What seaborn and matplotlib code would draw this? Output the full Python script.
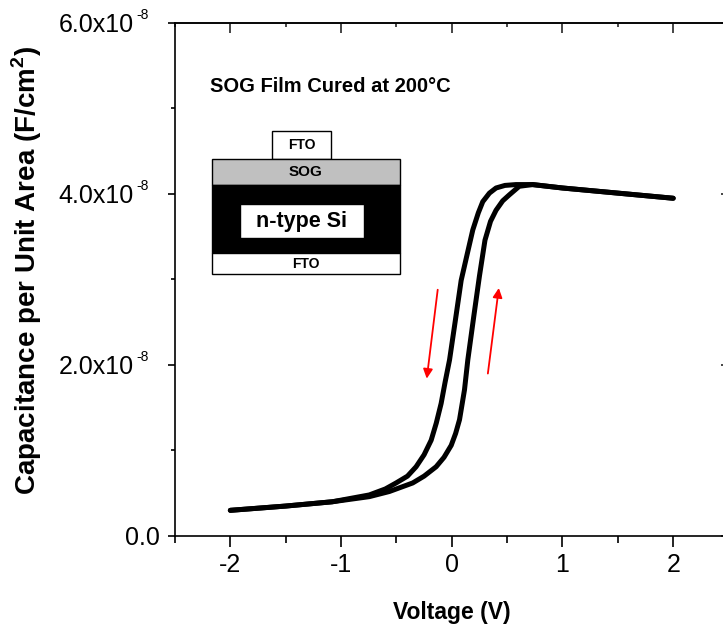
import matplotlib
matplotlib.use("Agg")
import matplotlib.pyplot as plt
from matplotlib.patches import Rectangle
from matplotlib.ticker import MultipleLocator, FuncFormatter
import seaborn as sns
import pandas as pd

# C-V hysteresis loop, capacitance in units of 1e-8 F/cm^2
v_left = [-2.0, -1.5, -1.08, -0.745, -0.60, -0.503, -0.40, -0.322, -0.25, -0.186, -0.14,
          -0.096, -0.06, -0.02, 0.03, 0.085, 0.14, 0.19, 0.24, 0.28, 0.34, 0.40, 0.48,
          0.58, 0.73, 1.0, 1.5, 2.0]
c_left = [0.30, 0.35, 0.40, 0.48, 0.55, 0.62, 0.70, 0.81, 0.95, 1.12, 1.32,
          1.55, 1.80, 2.06, 2.50, 2.99, 3.30, 3.58, 3.78, 3.91, 4.01, 4.07, 4.10,
          4.11, 4.11, 4.07, 4.01, 3.95]
v_right = [-2.0, -1.5, -1.08, -0.745, -0.564, -0.353, -0.25, -0.141, -0.07, -0.005, 0.035,
           0.07, 0.115, 0.145, 0.20, 0.25, 0.30, 0.35, 0.40, 0.46, 0.52, 0.61, 0.73,
           1.0, 1.5, 2.0]
c_right = [0.30, 0.35, 0.40, 0.46, 0.52, 0.62, 0.70, 0.81, 0.92, 1.06, 1.20,
           1.36, 1.71, 2.06, 2.58, 3.04, 3.46, 3.68, 3.81, 3.92, 3.99, 4.09, 4.11,
           4.07, 4.01, 3.95]

# sweep direction arrows (V, C) start -> end
arrow_down = [(-0.127, 2.88), (-0.226, 1.84)]
arrow_up = [(0.326, 1.90), (0.425, 2.90)]

x_ticks = [-2, -1, 0, 1, 2]
y_ticks = [0, 2e-8, 4e-8, 6e-8]

sns.set_theme(style="ticks")
plt.rcParams["font.family"] = ["Liberation Sans", "DejaVu Sans"]
plt.rcParams["text.color"] = "black"
plt.rcParams["axes.labelcolor"] = "black"
plt.rcParams["mathtext.fontset"] = "custom"
plt.rcParams["mathtext.rm"] = "Liberation Sans"
plt.rcParams["mathtext.bf"] = "Liberation Sans:bold"

df = pd.concat([
    pd.DataFrame({"V": v_left, "C": [c * 1e-8 for c in c_left], "branch": "down"}),
    pd.DataFrame({"V": v_right, "C": [c * 1e-8 for c in c_right], "branch": "up"}),
])

fig = plt.figure(figsize=(7.23, 6.26), dpi=100)
ax = fig.add_axes([0.242, 0.1438, 0.7657, 0.8195])

sns.lineplot(data=df, x="V", y="C", units="branch", estimator=None, sort=False,
             color="black", lw=3.6, ax=ax, legend=False)
for line in ax.lines:
    line.set_solid_capstyle("round")
    line.set_solid_joinstyle("round")

ax.set_xlim(-2.5, 2.5)
ax.set_ylim(0, 6e-8)
ax.set_xticks(x_ticks)
ax.set_yticks(y_ticks)
ax.xaxis.set_minor_locator(MultipleLocator(0.5))
ax.yaxis.set_minor_locator(MultipleLocator(1e-8))
ax.yaxis.set_major_formatter(FuncFormatter(
    lambda v, p: "0.0" if v == 0 else f"{v / 1e-8:.1f}x10"))
ax.xaxis.set_major_formatter(FuncFormatter(lambda v, p: f"{v:g}"))

for s in ax.spines.values():
    s.set_linewidth(1.2)
    s.set_color("black")
ax.tick_params(axis="x", which="major", direction="out", length=8, width=1.2,
               labelsize=18, colors="black", pad=4)
ax.tick_params(axis="x", which="minor", direction="out", length=5, width=1.2,
               colors="black")
ax.tick_params(axis="y", which="major", direction="out", length=5, width=1.2,
               labelsize=18, colors="black", pad=24.5)
ax.tick_params(axis="y", which="minor", direction="out", length=3, width=1.2,
               colors="black")
yt = ax.yaxis.get_major_ticks()
yt[0].set_pad(5.8)

# small superscript exponents next to the y tick labels
for v in y_ticks[1:]:
    ax.annotate("-8", xy=(0, v), xycoords=("axes fraction", "data"),
                xytext=(-28, 6), textcoords="offset points",
                ha="left", va="center", fontsize=10, color="black")

top = ax.secondary_xaxis("top")
top.set_xticks(x_ticks)
top.xaxis.set_minor_locator(MultipleLocator(0.5))
top.tick_params(which="major", direction="in", length=7.5, width=1.2, labeltop=False)
top.tick_params(which="minor", direction="in", length=3, width=1.2)
top.spines["top"].set_linewidth(1.2)

right = ax.secondary_yaxis("right")
right.set_yticks(y_ticks)
right.tick_params(which="major", direction="in", length=6, width=1.2, labelright=False)
right.tick_params(which="minor", length=0)

ax.set_xlabel("Voltage (V)", fontsize=16.5, fontweight="bold")
ax.xaxis.set_label_coords(0.5, -0.127)
ax.xaxis.label.set_va("top")
ax.set_ylabel(r"Capacitance per Unit Area (F/cm$^{\mathbf{2}}$)", fontsize=20,
              fontweight="bold")
ax.yaxis.set_label_coords(-0.237, 0.518)

ax.text(0.064, 0.876, "SOG Film Cured at 200°C", transform=ax.transAxes,
        fontsize=14.5, fontweight="bold", va="center", ha="left", color="black")

for (x0, y0), (x1, y1) in [arrow_down, arrow_up]:
    ax.annotate("", xy=(x1, y1 * 1e-8), xytext=(x0, y0 * 1e-8),
                arrowprops=dict(arrowstyle="-|>", color="red", lw=1.3,
                                mutation_scale=14, shrinkA=0, shrinkB=0))

# device structure sketch
ins = fig.add_axes([211.7 / 723, 0.5623, 188.3 / 723, 0.2289])
ins.set_xlim(0, 1)
ins.set_ylim(0, 1)
ins.axis("off")
layers = [
    ((0.319, 0.8025), 0.315, 0.1975, "white", "FTO", 10),
    ((0.0, 0.621), 1.0, 0.1815, "#c0c0c0", "SOG", 11),
    ((0.0, 0.1445), 1.0, 0.4765, "black", None, 0),
    ((0.150, 0.249), 0.659, 0.237, "white", "n-type Si", 15.5),
    ((0.0, 0.0), 1.0, 0.1445, "white", "FTO", 10),
]
for (x0, y0), w, h, fc, txt, fs in layers:
    ins.add_patch(Rectangle((x0, y0), w, h, facecolor=fc, edgecolor="black",
                            lw=1.0, clip_on=False))
    if txt:
        ins.text(x0 + w / 2, y0 + h / 2, txt, ha="center", va="center",
                 fontsize=fs, fontweight="bold", color="black")

fig.savefig("out.png", dpi=100)
